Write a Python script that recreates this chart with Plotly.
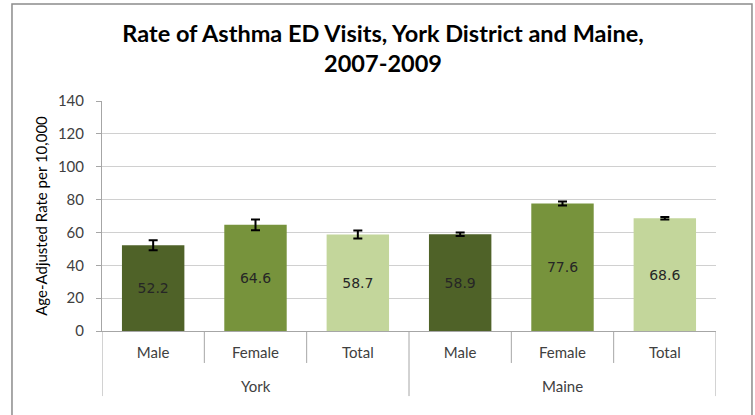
import plotly.graph_objects as go

regions = ["York", "York", "York", "Maine", "Maine", "Maine"]
groups = ["Male", "Female", "Total", "Male", "Female", "Total"]
rates = [52.2, 64.6, 58.7, 58.9, 77.6, 68.6]
errors = [3.0, 3.3, 2.4, 1.1, 1.2, 0.8]
colors = ["#4F6228", "#77933C", "#C3D69B", "#4F6228", "#77933C", "#C3D69B"]
y_ticks = [0, 20, 40, 60, 80, 100, 120, 140]

pos = list(range(len(groups)))
region_names = list(dict.fromkeys(regions))

fig = go.Figure(go.Bar(
    x=pos,
    y=rates,
    marker=dict(color=colors, line=dict(width=0)),
    width=0.61,
    text=[f"{v:.1f}" for v in rates],
    textposition="inside",
    insidetextanchor="middle",
    textfont=dict(family="DejaVu Sans", size=14, color="#262626"),
    textangle=0,
    error_y=dict(type="data", array=errors, visible=True, color="black", thickness=2, width=4.5),
))

axis_col = "#a6a6a6"
shapes = [dict(type="rect", xref="paper", yref="paper", x0=-0.1466, x1=1.0586, y0=-0.6, y1=1.4217,
               line=dict(color="#8c8c8c", width=1.5))]
# dividers between categories (short) and between regions (long)
for i in range(len(groups) + 1):
    boundary = i - 0.5
    is_outer = i == 0 or i == len(groups) or regions[i] != regions[i - 1]
    shapes.append(dict(type="line", xref="x", yref="paper", x0=boundary, x1=boundary,
                       y0=0, y1=-0.283 if is_outer else -0.139,
                       line=dict(color=axis_col, width=1)))

annotations = []
for r in region_names:
    idx = [i for i, g in enumerate(regions) if g == r]
    annotations.append(dict(x=sum(idx) / len(idx), xref="x", y=-0.238, yref="paper",
                            text=r, showarrow=False, yanchor="middle",
                            font=dict(family="Lato", size=15, color="#404040")))

fig.update_layout(
    width=755, height=415,
    margin=dict(l=102, r=39, t=101, b=84),
    paper_bgcolor="white", plot_bgcolor="white",
    showlegend=False,
    title=dict(text="<b>Rate of Asthma ED Visits, York District and Maine,<br>2007-2009</b>",
               x=0.4577, xref="paper", xanchor="center", y=0.90, yref="container", yanchor="top",
               font=dict(family="Lato", size=23.5, color="black")),
    font=dict(family="Lato", size=15, color="#404040"),
    shapes=shapes,
    annotations=annotations,
)
fig.update_yaxes(
    range=[0, 140], tickvals=y_ticks, showgrid=True, gridcolor="#d0d0d0", gridwidth=1,
    showline=True, linecolor=axis_col, ticks="outside", ticklen=5, tickcolor=axis_col,
    ticklabelstandoff=9,
    title=dict(text="Age-Adjusted Rate per 10,000", font=dict(family="Lato", size=15, color="black"), standoff=6),
    tickfont=dict(family="Lato", size=15, color="#404040"), zeroline=False,
)
fig.update_xaxes(
    range=[-0.5, len(groups) - 0.5], tickvals=pos, ticktext=groups,
    showline=True, linecolor=axis_col, ticks="", ticklabelstandoff=8,
    tickfont=dict(family="Lato", size=15, color="#404040"), showgrid=False, zeroline=False,
)
fig.write_html("out.html", config={"displayModeBar": False},
               post_script="document.body.style.margin='0';")
